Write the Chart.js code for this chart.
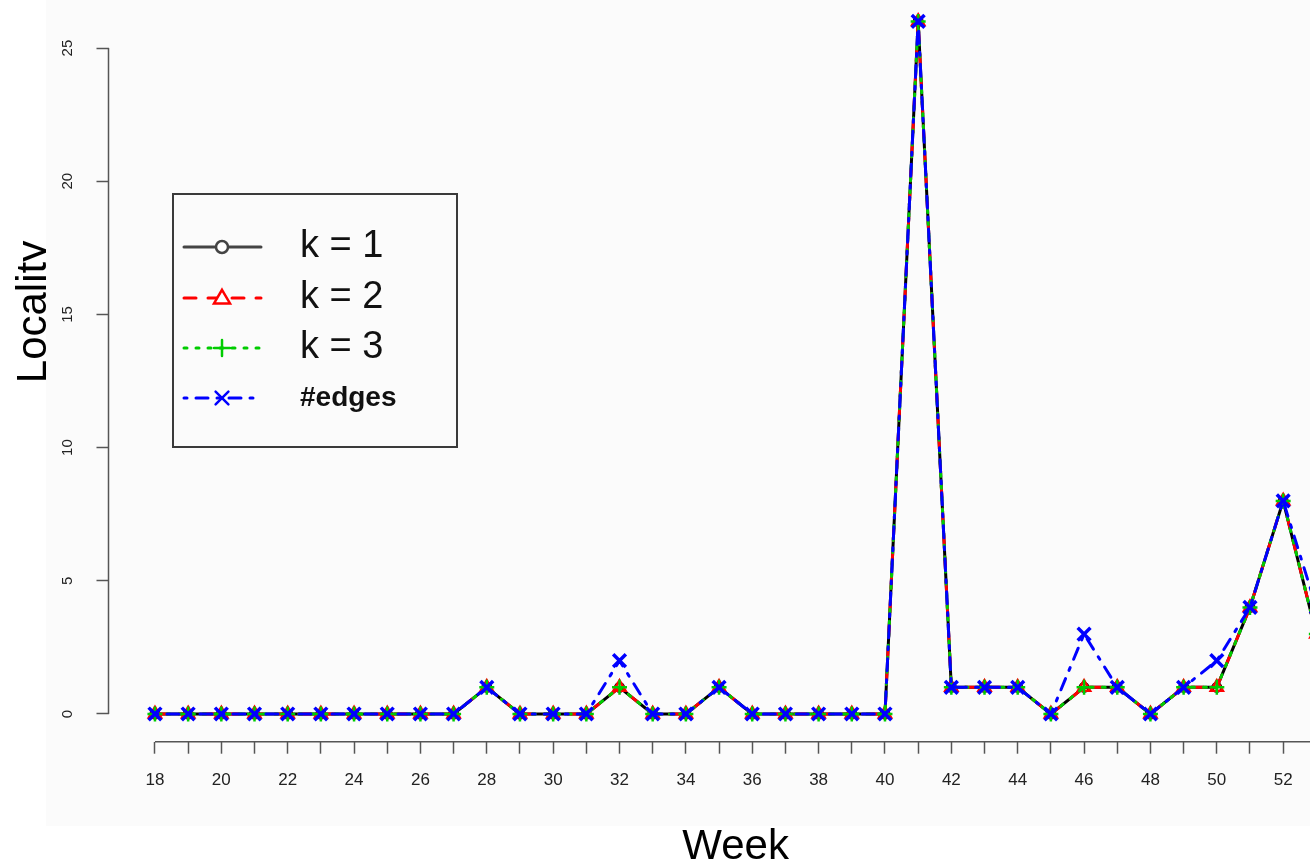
<!DOCTYPE html>
<html>
<head>
<meta charset="utf-8">
<script src="https://cdn.jsdelivr.net/npm/chart.js@4/dist/chart.umd.min.js"></script>
<style>
html,body{margin:0;padding:0;background:#fff;overflow:hidden;width:1310px;height:868px;position:relative}
#c{position:absolute;left:0;top:-40px}
</style>
</head>
<body>
<canvas id="c" width="1420" height="908"></canvas>
<script>
// ---- data ----
const weeks = [18,19,20,21,22,23,24,25,26,27,28,29,30,31,32,33,34,35,36,37,38,39,40,41,42,43,44,45,46,47,48,49,50,51,52,53];
const k1    = [0,0,0,0,0,0,0,0,0,0,1,0,0,0,1,0,0,1,0,0,0,0,0,26,1,1,1,0,1,1,0,1,1,4,8,3];
const k2    = [0,0,0,0,0,0,0,0,0,0,1,0,0,0,1,0,0,1,0,0,0,0,0,26,1,1,1,0,1,1,0,1,1,4,8,3];
const k3    = [0,0,0,0,0,0,0,0,0,0,1,0,0,0,1,0,0,1,0,0,0,0,0,26,1,1,1,0,1,1,0,1,1,4,8,3];
const edges = [0,0,0,0,0,0,0,0,0,0,1,0,0,0,2,0,0,1,0,0,0,0,0,26,1,1,1,0,3,1,0,1,2,4,8,4];
const seriesLabels = ['k = 1','k = 2','k = 3','#edges'];
const xTickLabels = ['18','','20','','22','','24','','26','','28','','30','','32','','34','','36','','38','','40','','42','','44','','46','','48','','50','','52',''];
const yTicks = [0,5,10,15,20,25];
const yTickLabels = ['0','5','10','15','20','25'];

const OFF = 40; // canvas is shifted up by this many px
const FONT = '"Liberation Sans", Arial, sans-serif';

function pts(vals){ return weeks.map((w,i)=>({x:w,y:vals[i]})); }

function mk(label, vals, color, dash, style, order, radius, pbw){
  return {
    label, data: pts(vals), borderColor: color, backgroundColor: 'rgba(0,0,0,0)',
    borderWidth: 3, borderDash: dash, borderCapStyle: 'round', borderJoinStyle: 'round',
    tension: 0, pointStyle: style, pointRadius: radius, pointBorderWidth: pbw,
    pointBorderColor: color, pointBackgroundColor: 'rgba(0,0,0,0)', order
  };
}

function drawMarker(ctx, style, x, y, r){
  ctx.beginPath();
  if (style === 'circle') {
    ctx.arc(x, y, r*0.75, 0, Math.PI*2);
    ctx.fillStyle = '#fff'; ctx.fill(); ctx.stroke();
  } else if (style === 'triangle') {
    const h = r*1.7;
    ctx.moveTo(x, y - h*0.6); ctx.lineTo(x + r, y + h*0.4); ctx.lineTo(x - r, y + h*0.4); ctx.closePath();
    ctx.fillStyle = '#fff'; ctx.fill(); ctx.stroke();
  } else if (style === 'cross') {
    ctx.moveTo(x - r, y); ctx.lineTo(x + r, y); ctx.moveTo(x, y - r); ctx.lineTo(x, y + r); ctx.stroke();
  } else if (style === 'crossRot') {
    const d = r*0.8;
    ctx.moveTo(x - d, y - d); ctx.lineTo(x + d, y + d); ctx.moveTo(x + d, y - d); ctx.lineTo(x - d, y + d); ctx.stroke();
  }
}

const decor = {
  id: 'decor',
  beforeDraw(chart){
    const ctx = chart.ctx;
    ctx.save();
    ctx.fillStyle = '#fff';
    ctx.fillRect(0, 0, chart.width, chart.height);
    // y axis title (partly covered by the panel background, as in the original)
    ctx.translate(46, 312 + OFF);
    ctx.rotate(-Math.PI/2);
    ctx.font = '42px ' + FONT;
    ctx.fillStyle = '#000';
    ctx.textAlign = 'center';
    ctx.textBaseline = 'alphabetic';
    ctx.fillText('Locality', 0, 0);
    ctx.restore();
    ctx.save();
    ctx.fillStyle = '#fbfbfb';
    ctx.fillRect(46, 0, chart.width - 46, 826 + OFF);
    ctx.restore();
  },
  beforeDatasetsDraw(chart){
    const ctx = chart.ctx, xs = chart.scales.x, ys = chart.scales.y, a = chart.chartArea;
    ctx.save();
    ctx.strokeStyle = '#555';
    ctx.lineWidth = 1.5;
    ctx.beginPath();
    ctx.moveTo(a.left, ys.getPixelForValue(yTicks[0]));
    ctx.lineTo(a.left, ys.getPixelForValue(yTicks[yTicks.length-1]));
    ctx.moveTo(xs.getPixelForValue(weeks[0]), a.bottom);
    ctx.lineTo(xs.getPixelForValue(weeks[weeks.length-1]), a.bottom);
    ctx.stroke();
    ctx.restore();
  },
  afterDraw(chart){
    const ctx = chart.ctx;
    ctx.save();
    ctx.strokeStyle = '#3a3a3a';
    ctx.lineWidth = 2;
    ctx.strokeRect(173, 194 + OFF, 284, 253);
    const rows = [247, 298, 348, 398];
    chart.data.datasets.forEach((ds, i) => {
      const y = rows[i] + OFF;
      ctx.strokeStyle = i === 0 ? '#444' : ds.borderColor;
      ctx.lineWidth = 3;
      ctx.lineCap = 'round';
      ctx.setLineDash(ds.borderDash);
      ctx.lineDashOffset = 0;
      ctx.beginPath(); ctx.moveTo(184, y); ctx.lineTo(261, y); ctx.stroke();
      ctx.setLineDash([]);
      ctx.lineWidth = 2.5;
      drawMarker(ctx, ds.pointStyle, 222, y, 8);
      ctx.fillStyle = '#111';
      ctx.textAlign = 'left';
      ctx.textBaseline = 'middle';
      ctx.font = (ds.label.charAt(0) === '#') ? 'bold 28px ' + FONT : '38px ' + FONT;
      ctx.fillText(ds.label, 300, y);
    });
    ctx.restore();
  }
};

new Chart(document.getElementById('c'), {
  type: 'line',
  data: {
    datasets: [
      mk(seriesLabels[0], k1, '#000000', [], 'circle', 4, 4.5, 2),
      mk(seriesLabels[1], k2, '#ff0000', [12,12], 'triangle', 3, 7, 2.5),
      mk(seriesLabels[2], k3, '#00cc00', [3,9], 'cross', 2, 7.5, 2.5),
      mk(seriesLabels[3], edges, '#0000ff', [3,9,12,9], 'crossRot', 1, 9, 3.5)
    ]
  },
  options: {
    responsive: false, animation: false, devicePixelRatio: 1,
    layout: { padding: { left: 0, top: 33.7, right: 57.2, bottom: 0 } },
    plugins: { legend: { display: false }, tooltip: { enabled: false } },
    scales: {
      x: {
        type: 'linear', min: 16.6, max: 54.4,
        afterBuildTicks: s => { s.ticks = weeks.map(v => ({ value: v })); },
        afterFit: s => { s.height = 126.3; },
        grid: { display: true, drawOnChartArea: false, drawTicks: true, tickLength: 12, tickWidth: 1.5, tickColor: '#555' },
        border: { display: false },
        ticks: { autoSkip: false, minRotation: 0, maxRotation: 0, padding: 16,
                 font: { family: FONT, size: 17 }, color: '#222',
                 callback: (v, i) => xTickLabels[i] },
        title: { display: true, text: 'Week', color: '#000', font: { family: FONT, size: 42, lineHeight: 1 }, padding: { top: 0, bottom: 0 } }
      },
      y: {
        type: 'linear', min: -1.04, max: 27.04,
        afterBuildTicks: s => { s.ticks = yTicks.map(v => ({ value: v })); },
        afterFit: s => { s.width = 108.5; },
        grid: { display: true, drawOnChartArea: false, drawTicks: true, tickLength: 12, tickWidth: 1.5, tickColor: '#555' },
        border: { display: false },
        ticks: { minRotation: 90, maxRotation: 90, crossAlign: 'center', padding: 20,
                 font: { family: FONT, size: 15 }, color: '#222',
                 callback: (v, i) => yTickLabels[i] }
      }
    }
  },
  plugins: [decor]
});
</script>
</body>
</html>
